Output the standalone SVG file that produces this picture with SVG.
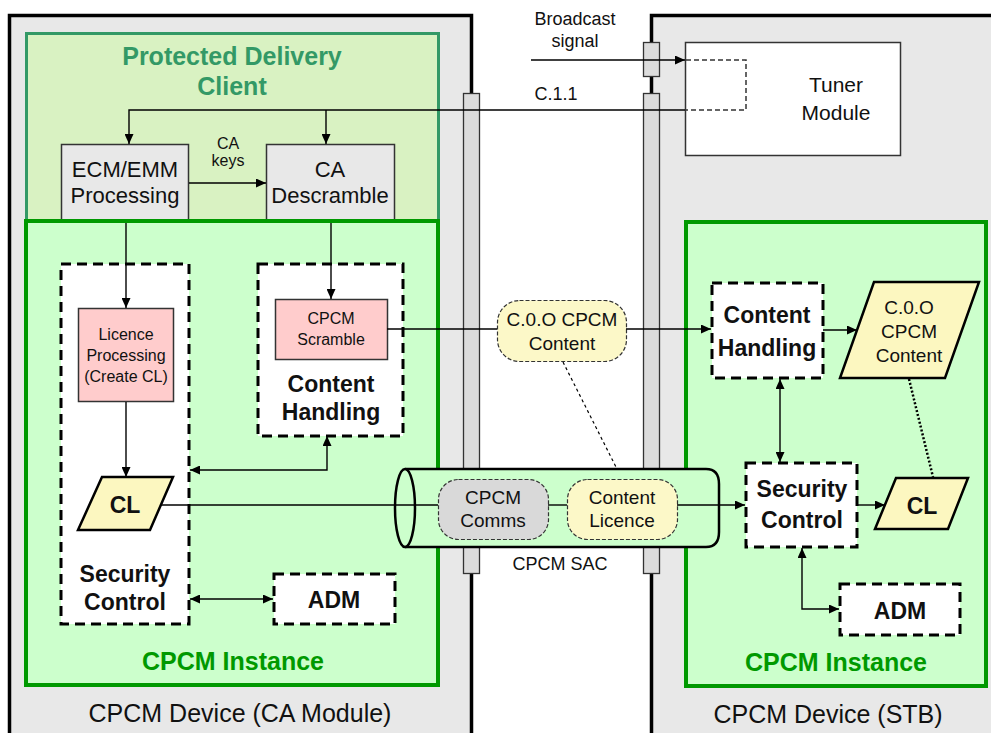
<svg xmlns="http://www.w3.org/2000/svg" width="991" height="733" viewBox="0 0 991 733">
<defs>
<marker id="ah" viewBox="0 0 10 9" refX="10" refY="4.5" markerWidth="10" markerHeight="9" markerUnits="userSpaceOnUse" orient="auto-start-reverse"><path d="M0,0 L10,4.5 L0,9 z" fill="#000"/></marker>
<style>
text{font-family:"Liberation Sans",Arial,sans-serif;fill:#111;text-anchor:middle}
.dev{fill:#e8e8e8;stroke:#000;stroke-width:3.5}
.pil{fill:#dcdcdc;stroke:#333;stroke-width:1.3}
.inst{fill:#ccffcc;stroke:#009900;stroke-width:4}
.dash{fill:#fff;stroke:#000;stroke-width:3;stroke-dasharray:10 6}
.gbox{fill:#e8e8e8;stroke:#333;stroke-width:1.5}
.pink{fill:#ffcccc;stroke:#333;stroke-width:1.5}
.pill{stroke:#333;stroke-width:1.2;stroke-dasharray:4 2}
.para{fill:#fcf7c0;stroke:#000;stroke-width:2.5}
.c{fill:none;stroke:#000;stroke-width:1.4}
.big{font-size:23px;font-weight:bold}
.lbl{font-size:25px;font-weight:bold;fill:#009900}
</style>
</defs>
<rect width="991" height="733" fill="#fff"/>
<g id="device-ca">
<rect class="dev" x="9.5" y="15.5" width="462" height="740"/>
<text x="240" y="722" font-size="25">CPCM Device (CA Module)</text>
</g>
<g id="device-stb">
<rect class="dev" x="651.5" y="15.5" width="360" height="740"/>
<text x="828" y="723" font-size="25">CPCM Device (STB)</text>
</g>
<g id="pillars">
<rect class="pil" x="463.5" y="93.5" width="16" height="480"/>
<rect class="pil" x="643.5" y="93.5" width="16" height="480"/>
<rect class="pil" x="643.5" y="42.5" width="16" height="34"/>
</g>
<g id="pdc">
<rect x="26.5" y="33.5" width="412" height="190" fill="#d9f2c2" stroke="#339966" stroke-width="3"/>
<text x="232" y="65" font-size="25" font-weight="bold" style="fill:#339966">Protected Delivery</text>
<text x="232" y="95" font-size="25" font-weight="bold" style="fill:#339966">Client</text>
</g>
<g id="ecm">
<rect class="gbox" x="61.5" y="144.5" width="127" height="80"/>
<text x="125" y="177" font-size="22">ECM/EMM</text>
<text x="125" y="203" font-size="22">Processing</text>
</g>
<g id="descramble">
<rect class="gbox" x="266.5" y="144.5" width="128" height="80"/>
<text x="330" y="177" font-size="22">CA</text>
<text x="330" y="203" font-size="22">Descramble</text>
</g>
<g id="tuner">
<rect x="685.5" y="42.5" width="215" height="113" fill="#fff" stroke="#333" stroke-width="1.5"/>
<path d="M686,60 H746 V110 H686" fill="none" stroke="#333" stroke-width="1.5" stroke-dasharray="5 3"/>
<text x="836" y="92" font-size="21">Tuner</text>
<text x="836" y="120" font-size="21">Module</text>
</g>
<g id="instance-ca">
<rect class="inst" x="26" y="221" width="412" height="464"/>
<text class="lbl" x="233" y="670">CPCM Instance</text>
</g>
<g id="instance-stb">
<rect class="inst" x="686" y="222" width="300" height="464"/>
<text class="lbl" x="836" y="671">CPCM Instance</text>
</g>
<g id="security-ca">
<rect class="dash" x="61" y="264" width="128" height="360"/>
<text class="big" x="125" y="582">Security</text>
<text class="big" x="125" y="610">Control</text>
</g>
<g id="licence-proc">
<rect class="pink" x="78.5" y="308.5" width="95" height="93"/>
<text x="126" y="340" font-size="16">Licence</text>
<text x="126" y="361" font-size="16">Processing</text>
<text x="126" y="382" font-size="16">(Create CL)</text>
</g>
<g id="cl-ca">
<polygon class="para" points="102,477 173,477 150,530 78,530"/>
<text class="big" x="125" y="513">CL</text>
</g>
<g id="handling-ca">
<rect class="dash" x="258" y="264" width="145" height="172"/>
<text class="big" x="331" y="392">Content</text>
<text class="big" x="331" y="420">Handling</text>
</g>
<g id="scramble">
<rect class="pink" x="275.5" y="299.5" width="112" height="60"/>
<text x="331" y="324" font-size="16">CPCM</text>
<text x="331" y="345" font-size="16">Scramble</text>
</g>
<g id="adm-ca">
<rect class="dash" x="274" y="574" width="121" height="50"/>
<text class="big" x="334" y="608">ADM</text>
</g>
<g id="sac">
<path d="M405,469 H706 Q719,469 719,484 V532 Q719,547 706,547 H405" fill="#ccffcc" stroke="#000" stroke-width="2.5"/>
<ellipse cx="405" cy="508" rx="10" ry="39" fill="#ccffcc" stroke="#000" stroke-width="2.5"/>
<text x="560" y="570" font-size="18">CPCM SAC</text>
</g>
<g id="comms">
<rect class="pill" x="438.5" y="479.5" width="110" height="60" rx="20" fill="#d9d9d9"/>
<text x="493" y="504" font-size="19">CPCM</text>
<text x="493" y="527" font-size="19">Comms</text>
</g>
<g id="content-licence">
<rect class="pill" x="567.5" y="479.5" width="110" height="60" rx="20" fill="#fcf8c8"/>
<text x="622" y="504" font-size="19">Content</text>
<text x="622" y="527" font-size="19">Licence</text>
</g>
<g id="content-pill">
<rect class="pill" x="497.5" y="300.5" width="129" height="61" rx="22" fill="#fcf8c8"/>
<text x="562" y="326" font-size="19">C.0.O CPCM</text>
<text x="562" y="350" font-size="19">Content</text>
</g>
<g id="handling-stb">
<rect class="dash" x="712" y="283" width="111" height="95"/>
<text class="big" x="767" y="323">Content</text>
<text class="big" x="767" y="356">Handling</text>
</g>
<g id="content-stb">
<polygon class="para" points="874,282 979,282 945,378 840,378" stroke-width="3"/>
<text x="909" y="314" font-size="19">C.0.O</text>
<text x="909" y="338" font-size="19">CPCM</text>
<text x="909" y="362" font-size="19">Content</text>
</g>
<g id="security-stb">
<rect class="dash" x="746" y="463" width="111" height="84"/>
<text class="big" x="802" y="497">Security</text>
<text class="big" x="802" y="528">Control</text>
</g>
<g id="cl-stb">
<polygon class="para" points="896,478 968,478 948,529 875,529"/>
<text class="big" x="922" y="514">CL</text>
</g>
<g id="adm-stb">
<rect class="dash" x="840" y="584" width="120" height="51"/>
<text class="big" x="900" y="619">ADM</text>
</g>
<g id="connectors">
<path class="c" d="M685,110 H129 V144" marker-end="url(#ah)"/>
<path class="c" d="M326,110 V144" marker-end="url(#ah)"/>
<path class="c" d="M531,60 H685" marker-end="url(#ah)"/>
<path class="c" d="M189,183 H266" marker-end="url(#ah)"/>
<text x="228" y="149" font-size="16">CA</text>
<text x="228" y="166" font-size="16">keys</text>
<text x="556" y="100" font-size="18">C.1.1</text>
<text x="575" y="25" font-size="18">Broadcast</text>
<text x="575" y="47" font-size="18">signal</text>
<path class="c" d="M126,223 V308" marker-end="url(#ah)"/>
<path class="c" d="M331,223 V299" marker-end="url(#ah)"/>
<path class="c" d="M126,402 V477" marker-end="url(#ah)"/>
<path class="c" d="M387,329 H497"/>
<path class="c" d="M626,329 H711" marker-end="url(#ah)"/>
<path class="c" d="M161,505 H438"/>
<path class="c" d="M548,505 H567"/>
<path class="c" d="M677,505 H745" marker-end="url(#ah)"/>
<path class="c" d="M327,436 V470 H190" marker-start="url(#ah)" marker-end="url(#ah)"/>
<path class="c" d="M190,599 H273" marker-start="url(#ah)" marker-end="url(#ah)"/>
<path class="c" d="M823,330 H857" marker-end="url(#ah)"/>
<path class="c" d="M780,379 V462" marker-start="url(#ah)" marker-end="url(#ah)"/>
<path class="c" d="M857,505 H885" marker-end="url(#ah)"/>
<path class="c" d="M802,548 V609 H839" marker-start="url(#ah)" marker-end="url(#ah)"/>
<path d="M563,362 L617,469" fill="none" stroke="#000" stroke-width="1.2" stroke-dasharray="3 3"/>
<path d="M909,379 L933,477" fill="none" stroke="#000" stroke-width="2.5" stroke-dasharray="2 2"/>
</g>
</svg>
